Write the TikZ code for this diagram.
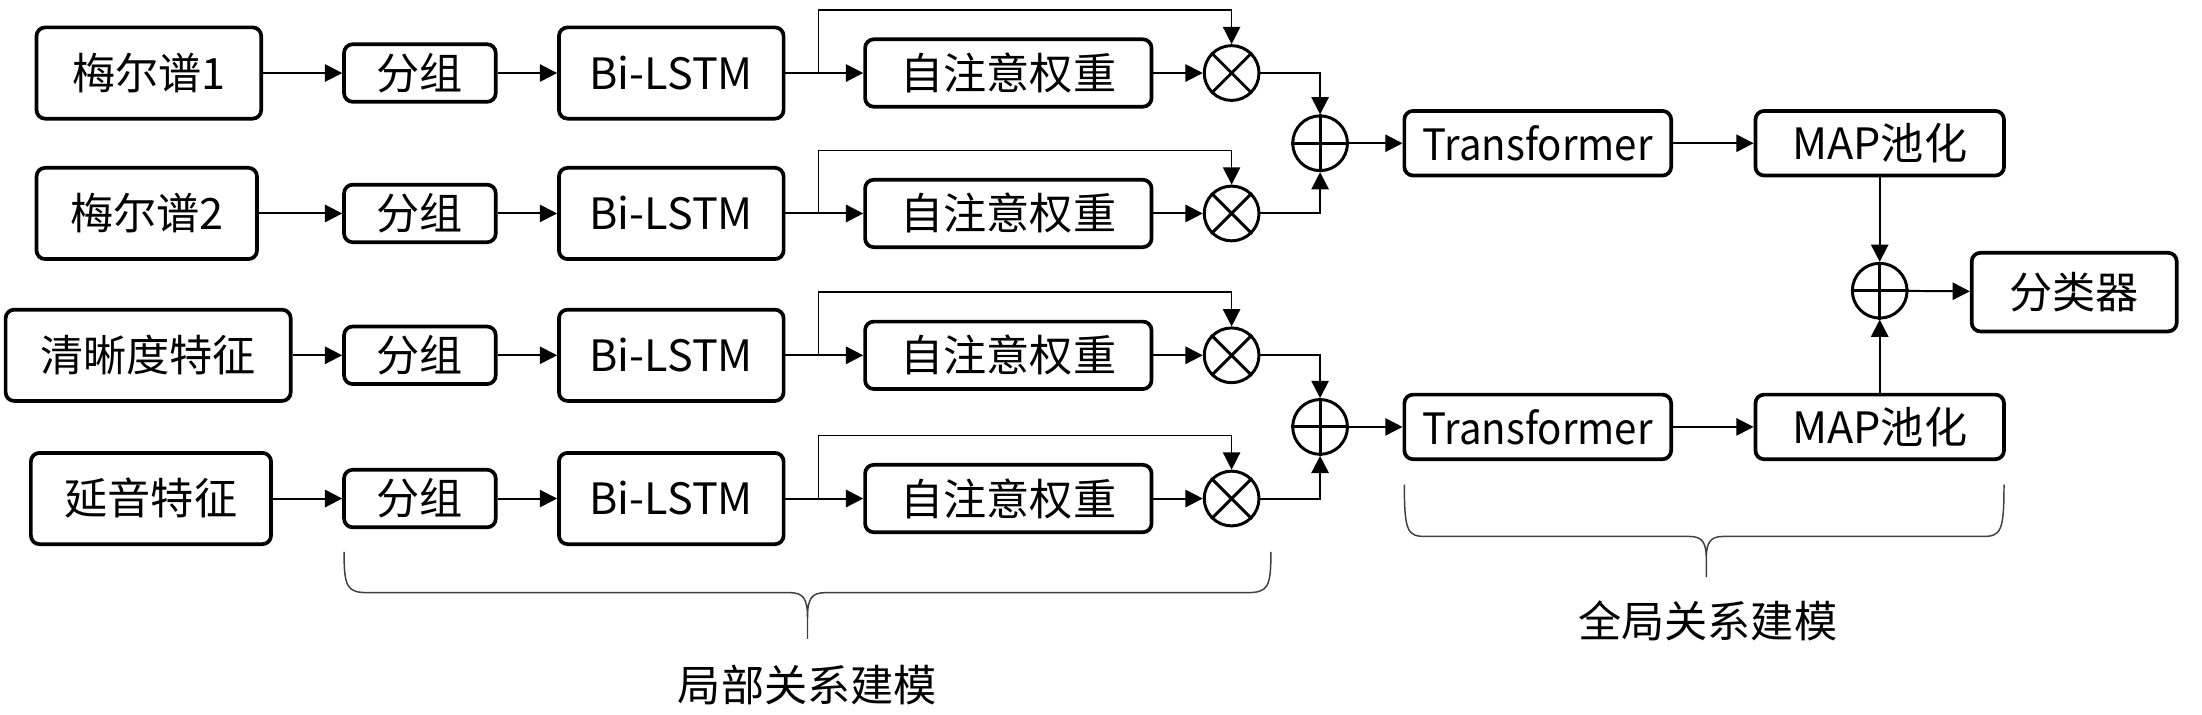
\documentclass[tikz,border=0pt]{standalone}
\usepackage{fontspec}
\setmainfont{Noto Sans CJK SC}
\usetikzlibrary{arrows.meta}
\begin{document}
\begin{tikzpicture}[x=0.02cm,y=-0.02cm,
    >={Triangle[length=7pt,width=7pt]},
    box/.style={draw,line width=1.5pt,rounded corners=3.5pt,inner sep=0pt,font=\fontsize{17.5}{20}\selectfont},
    op/.style={draw,circle,line width=1.2pt,minimum size=0.78cm,inner sep=0pt},
    link/.style={line width=0.8pt,->},
    bracel/.style={line width=0.6pt,black!75}]
    \useasboundingbox (0,0) rectangle (1568,508.5);
    % four input rows
    \foreach \r/\y/\txt/\cx/\w in {1/52/梅尔谱1/106/160,2/152/梅尔谱2/104.5/157,3/253/清晰度特征/105.5/203,4/355/延音特征/107.5/171}{
        \node[box,minimum width=\w*0.02cm,minimum height=1.3cm] (in\r) at (\cx,\y) {\txt};
        \node[box,minimum width=2.16cm,minimum height=0.82cm] (grp\r) at (299,\y) {分组};
        \node[box,minimum width=3.2cm,minimum height=1.3cm] (lstm\r) at (478,\y) {Bi-LSTM};
        \node[box,minimum width=4.08cm,minimum height=0.96cm] (att\r) at (718,\y) {自注意权重};
        \node[op] (mul\r) at (877,\y) {};
        \draw[line width=1.2pt] (mul\r.45) -- (mul\r.225) (mul\r.135) -- (mul\r.315);
        \coordinate (sk\r) at (583,\y);
        \draw[link] (in\r) -- (grp\r);
        \draw[link] (grp\r) -- (lstm\r);
        \draw[link] (lstm\r) -- (att\r);
        \draw[link] (att\r) -- (mul\r);
        % skip connection
        \draw[link,line width=0.6pt] (sk\r) -- ++(0,-45) -| (mul\r);
    }
    % global part
    \foreach \g/\y in {a/102,b/304}{
        \node[op] (add\g) at (940,\y) {};
        \draw[line width=1.2pt] (add\g.north) -- (add\g.south) (add\g.east) -- (add\g.west);
        \node[box,minimum width=3.8cm,minimum height=0.92cm] (trf\g) at (1095,\y) {\scalebox{0.93}[1]{Transformer}};
        \node[box,minimum width=3.54cm,minimum height=0.92cm] (map\g) at (1338.5,\y) {MAP池化};
        \draw[link] (add\g) -- (trf\g);
        \draw[link] (trf\g) -- (map\g);
    }
    \draw[link] (mul1) -| (adda);
    \draw[link] (mul2) -| (adda);
    \draw[link] (mul3) -| (addb);
    \draw[link] (mul4) -| (addb);
    \node[op] (addc) at (1338.5,207) {};
    \draw[line width=1.2pt] (addc.north) -- (addc.south) (addc.east) -- (addc.west);
    \node[box,minimum width=2.92cm,minimum height=1.12cm] (cls) at (1477,208) {分类器};
    \draw[link] (mapa) -- (addc);
    \draw[link] (mapb) -- (addc);
    \draw[link] (addc) -- (cls);
    % braces
    \draw[bracel] (245,393) .. controls (245,418) and (247,422) .. (262,422) -- (562,422)
        .. controls (572,422) and (575,426) .. (575,440) -- (575,455) -- (575,440)
        .. controls (575,426) and (578,422) .. (588,422) -- (888,422)
        .. controls (903,422) and (905,418) .. (905,393);
    \node[font=\fontsize{17.5}{20}\selectfont] (loc) at (575,488) {局部关系建模};
    \draw[bracel] (1000,345) .. controls (1000,378) and (1002,382) .. (1015,382) -- (1203,382)
        .. controls (1212,382) and (1215,386) .. (1215,398) -- (1215,411) -- (1215,398)
        .. controls (1215,386) and (1218,382) .. (1227,382) -- (1412,382)
        .. controls (1425,382) and (1427,378) .. (1427,345);
    \node[font=\fontsize{17.5}{20}\selectfont] (glb) at (1216,442) {全局关系建模};
\end{tikzpicture}
\end{document}
